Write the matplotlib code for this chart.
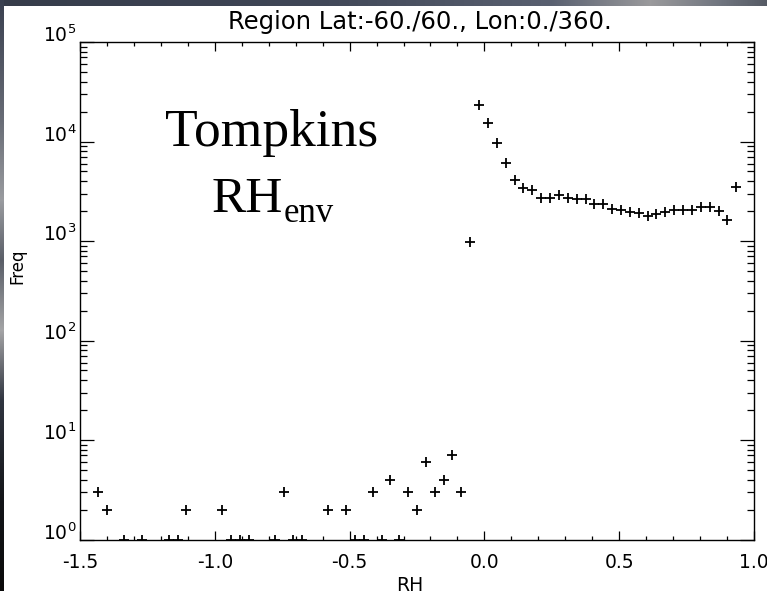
import numpy as np
import matplotlib
matplotlib.use("Agg")
import matplotlib.pyplot as plt
from matplotlib.ticker import FixedLocator, MultipleLocator, NullFormatter
from matplotlib.colors import to_rgb

plt.rcParams['font.family'] = ['DejaVu Sans']
plt.rcParams['axes.unicode_minus'] = False

# ---------------- data ----------------
rh = [-1.4342, -1.4013, -1.3355, -1.2697, -1.1711, -1.1382, -1.1053, -0.9737,
      -0.9408, -0.9079, -0.8750, -0.7763, -0.7434, -0.7105, -0.6776, -0.5789,
      -0.5132, -0.4803, -0.4474, -0.4145, -0.3816, -0.3487, -0.3158, -0.2829,
      -0.2500, -0.2171, -0.1842, -0.1513, -0.1184, -0.0855, -0.0526, -0.0197,
      0.0132, 0.0461, 0.0789, 0.1118, 0.1447, 0.1776, 0.2105, 0.2434,
      0.2763, 0.3092, 0.3421, 0.3750, 0.4079, 0.4408, 0.4737, 0.5066,
      0.5395, 0.5724, 0.6053, 0.6382, 0.6711, 0.7039, 0.7368, 0.7697,
      0.8026, 0.8355, 0.8684, 0.9013, 0.9342]
freq = [3, 2, 1, 1, 1, 1, 2, 2,
        1, 1, 1, 1, 3, 1, 1, 2,
        2, 1, 1, 3, 1, 4, 1, 3,
        2, 6, 3, 4, 7, 3, 970, 23200,
        15250, 9750, 6070, 4130, 3375, 3220, 2720, 2720,
        2870, 2700, 2660, 2660, 2380, 2330, 2110, 2030,
        1950, 1900, 1770, 1850, 1950, 2070, 2030, 2070,
        2190, 2190, 1990, 1640, 3480]

xticks = [-1.5, -1.0, -0.5, 0.0, 0.5, 1.0]
xticklabels = ["-1.5", "-1.0", "-0.5", "0.0", "0.5", "1.0"]
yticks = [1, 10, 100, 1000, 10000, 100000]
yticklabels = [r"$\mathdefault{10^{0}}$", r"$\mathdefault{10^{1}}$", r"$\mathdefault{10^{2}}$",
               r"$\mathdefault{10^{3}}$", r"$\mathdefault{10^{4}}$", r"$\mathdefault{10^{5}}$"]
title = "Region Lat:-60./60., Lon:0./360."

W, H = 767, 591
fig = plt.figure(figsize=(W / 100, H / 100), dpi=100)

# ---------------- background frame ----------------
def profile(stops, n):
    pos = [s[0] for s in stops]
    cols = np.array([to_rgb(s[1]) for s in stops])
    t = np.arange(n)
    return np.stack([np.interp(t, pos, cols[:, k]) for k in range(3)], axis=1)

top_prof = profile([(0, '#363c4a'), (300, '#3f4656'), (550, '#596070'),
                    (650, '#9a9a9c'), (720, '#70757f'), (767, '#555a64')], W)
left_prof = profile([(0, '#3a4050'), (120, '#686c76'), (200, '#9a9ca0'),
                     (260, '#5a5e68'), (330, '#a4a4a6'), (400, '#303540'),
                     (500, '#131519'), (591, '#0a0a0a')], H)
img = np.ones((H, W, 3))
img[:6, :, :] = top_prof[None, :, :]
img[:, :4, :] = left_prof[:, None, :]
bg = fig.add_axes([0, 0, 1, 1], zorder=-10)
bg.imshow(img, aspect='auto', interpolation='nearest', extent=[0, W, H, 0])
bg.axis('off')

# ---------------- main axes ----------------
ax = fig.add_axes([80 / W, 1 - 539.5 / H, 674 / W, 497.5 / H])
ax.plot(rh, freq, linestyle='none', marker='+', color='black',
        markersize=6.5, markeredgewidth=1.3, clip_on=True)

ax.set_yscale('log')
ax.set_xlim(-1.5, 1.0)
ax.set_ylim(1, 1e5)

ax.xaxis.set_major_locator(FixedLocator(xticks))
ax.set_xticklabels(xticklabels)
ax.xaxis.set_minor_locator(MultipleLocator(0.1))
ax.yaxis.set_major_locator(FixedLocator(yticks))
ax.set_yticklabels(yticklabels)
ax.yaxis.set_minor_locator(FixedLocator(
    [m * 10.0 ** e for e in range(0, 5) for m in range(2, 10)]))
ax.yaxis.set_minor_formatter(NullFormatter())

for s in ax.spines.values():
    s.set_linewidth(1.0)

ax.tick_params(which='both', direction='in', top=True, right=True, width=0.9,
               labelsize=13.5, colors='black')
ax.tick_params(axis='x', which='major', length=6.5, pad=9.4)
ax.tick_params(axis='x', which='minor', length=3)
ax.tick_params(axis='y', which='major', length=10, pad=2.5)
ax.tick_params(axis='y', which='minor', length=5)
for t in ax.yaxis.get_major_ticks():
    t.label1.set_verticalalignment('baseline')

ax.set_xlabel("RH", fontsize=13.5)
ax.xaxis.set_label_coords((410 - 80) / 674, -0.074)
ax.set_ylabel("Freq", fontsize=12)
ax.yaxis.set_label_coords(-0.080, (539.5 - 266) / 497.5)

fig.text(420 / W, 1 - 29 / H, title, ha='center', va='baseline', fontsize=17.5)

fig.text(271.5 / W, 1 - 146 / H, "Tompkins", ha='center', va='baseline',
         family='Liberation Serif', fontsize=38.5)
fig.text(211.7 / W, 1 - 211.7 / H, "RH", ha='left', va='baseline',
         family='Liberation Serif', fontsize=37)
fig.text(283.3 / W, 1 - 221.7 / H, "env", ha='left', va='baseline',
         family='Liberation Serif', fontsize=25)

fig.savefig("out.png", dpi=100)
